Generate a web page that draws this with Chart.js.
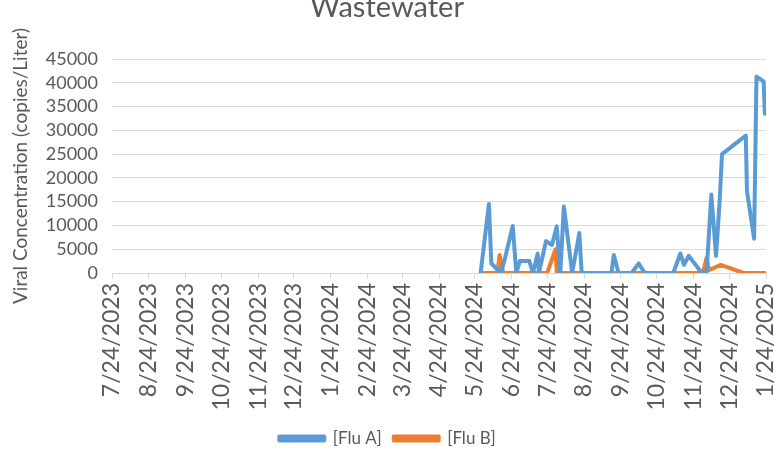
<!DOCTYPE html>
<html>
<head>
<meta charset="utf-8">
<script src="https://cdn.jsdelivr.net/npm/chart.js@4.4.1/dist/chart.umd.min.js"></script>
<style>
    body { margin: 0; background: #fff; }
    #wrap { width: 775px; height: 450px; position: relative; }
</style>
</head>
<body>
<div id="wrap"><canvas id="wwChart"></canvas></div>
<script>
// ===== DATA =====
const startDate = '2023-07-24';
const tickDates = ['2023-07-24', '2023-08-24', '2023-09-24', '2023-10-24', '2023-11-24', '2023-12-24',
    '2024-01-24', '2024-02-24', '2024-03-24', '2024-04-24', '2024-05-24', '2024-06-24', '2024-07-24',
    '2024-08-24', '2024-09-24', '2024-10-24', '2024-11-24', '2024-12-24', '2025-01-24'];

const fluADates = ['2024-05-29', '2024-06-05', '2024-06-07', '2024-06-15', '2024-06-18', '2024-06-25',
    '2024-06-28', '2024-07-01', '2024-07-09', '2024-07-12', '2024-07-16', '2024-07-17', '2024-07-23',
    '2024-07-28', '2024-08-01', '2024-08-04', '2024-08-07', '2024-08-14', '2024-08-20', '2024-08-22',
    '2024-09-16', '2024-09-18', '2024-09-22', '2024-10-03', '2024-10-09', '2024-10-14', '2024-11-07',
    '2024-11-13', '2024-11-16', '2024-11-20', '2024-12-01', '2024-12-05', '2024-12-09', '2024-12-13',
    '2024-12-16', '2024-12-18', '2025-01-07', '2025-01-08', '2025-01-14', '2025-01-16', '2025-01-22',
    '2025-01-23'];
const fluAValues = [0, 14500, 2000, 0, 2600, 9900,
    0, 2500, 2500, 0, 4100, 0, 6700,
    5900, 9800, 0, 14000, 0, 8400, 0,
    0, 3800, 0, 0, 2000, 0, 0,
    4100, 1700, 3600, 0, 0, 16500, 3600,
    15000, 25000, 28900, 17200, 7200, 41300, 40300,
    33500];

const fluBDates = ['2024-05-29', '2024-06-12', '2024-06-14', '2024-06-17', '2024-07-24', '2024-07-31',
    '2024-08-01', '2024-12-02', '2024-12-05', '2024-12-07', '2024-12-17', '2025-01-05', '2025-01-23'];
const fluBValues = [0, 0, 3800, 0, 0, 5000,
    0, 0, 3200, 600, 1700, 0, 0];

// days since the first tick, so the x axis can be linear
function dayOf(s) {
    const p = s.split('-').map(Number);
    const b = startDate.split('-').map(Number);
    return (Date.UTC(p[0], p[1] - 1, p[2]) - Date.UTC(b[0], b[1] - 1, b[2])) / 86400000;
}
function labelOf(s) {
    const p = s.split('-').map(Number);
    return p[1] + '/' + p[2] + '/' + p[0];
}

const tickDays = tickDates.map(dayOf);
const tickLabels = tickDates.map(labelOf);
const fluA = fluADates.map((d, i) => ({ x: dayOf(d), y: fluAValues[i] }));
const fluB = fluBDates.map((d, i) => ({ x: dayOf(d), y: fluBValues[i] }));

const textColor = '#595959';
const gridColor = '#d9d9d9';

// ===== TITLE (top is clipped in the original) =====
const titlePlugin = {
    id: 'topTitle',
    afterDraw(chart) {
        const ctx = chart.ctx;
        ctx.save();
        ctx.font = '29px Lato';
        ctx.fillStyle = textColor;
        ctx.textAlign = 'center';
        ctx.textBaseline = 'alphabetic';
        ctx.fillText('Wastewater', 387, 17);
        ctx.restore();
    }
};

// ===== CHART =====
new Chart(document.getElementById('wwChart'), {
    type: 'line',
    data: {
        datasets: [{
            label: '[Flu A]',
            data: fluA,
            borderColor: '#5b9bd5',
            backgroundColor: '#5b9bd5',
            borderWidth: 4,
            pointRadius: 0,
            tension: 0,
            borderJoinStyle: 'round',
            borderCapStyle: 'round'
        }, {
            label: '[Flu B]',
            data: fluB,
            borderColor: '#ed7d31',
            backgroundColor: '#ed7d31',
            borderWidth: 4,
            pointRadius: 0,
            tension: 0,
            borderJoinStyle: 'round',
            borderCapStyle: 'round'
        }]
    },
    options: {
        responsive: true,
        maintainAspectRatio: false,
        animation: false,
        layout: { padding: { top: 59, right: 9, bottom: -7, left: 9 } },
        plugins: {
            title: { display: false },
            tooltip: { enabled: false },
            legend: {
                position: 'bottom',
                labels: {
                    color: textColor,
                    font: { family: 'Lato', size: 17 },
                    boxWidth: 45,
                    boxHeight: 4,
                    padding: 12
                }
            }
        },
        scales: {
            x: {
                type: 'linear',
                min: 0,
                max: 550,
                afterBuildTicks: axis => {
                    axis.ticks = tickDays.map(v => ({ value: v }));
                },
                afterFit: axis => {
                    // let the last rotated label hang into the right margin
                    axis.paddingRight = 0;
                    axis.height = 145;
                },
                ticks: {
                    color: textColor,
                    font: { family: 'Lato', size: 23 },
                    minRotation: 90,
                    maxRotation: 90,
                    autoSkip: false,
                    padding: 4,
                    callback: (value, index) => tickLabels[index]
                },
                grid: {
                    drawOnChartArea: false,
                    color: gridColor,
                    tickLength: 6
                },
                border: { color: gridColor }
            },
            y: {
                min: 0,
                max: 45000,
                ticks: {
                    stepSize: 5000,
                    autoSkip: false,
                    color: textColor,
                    font: { family: 'Lato', size: 18 },
                    padding: 14,
                    callback: value => String(value)
                },
                grid: { color: gridColor, drawTicks: false },
                border: { display: false },
                title: {
                    display: true,
                    text: 'Viral Concentration (copies/Liter)',
                    color: textColor,
                    font: { family: 'Lato', size: 19 },
                    padding: 0
                }
            }
        }
    },
    plugins: [titlePlugin]
});
</script>
</body>
</html>
